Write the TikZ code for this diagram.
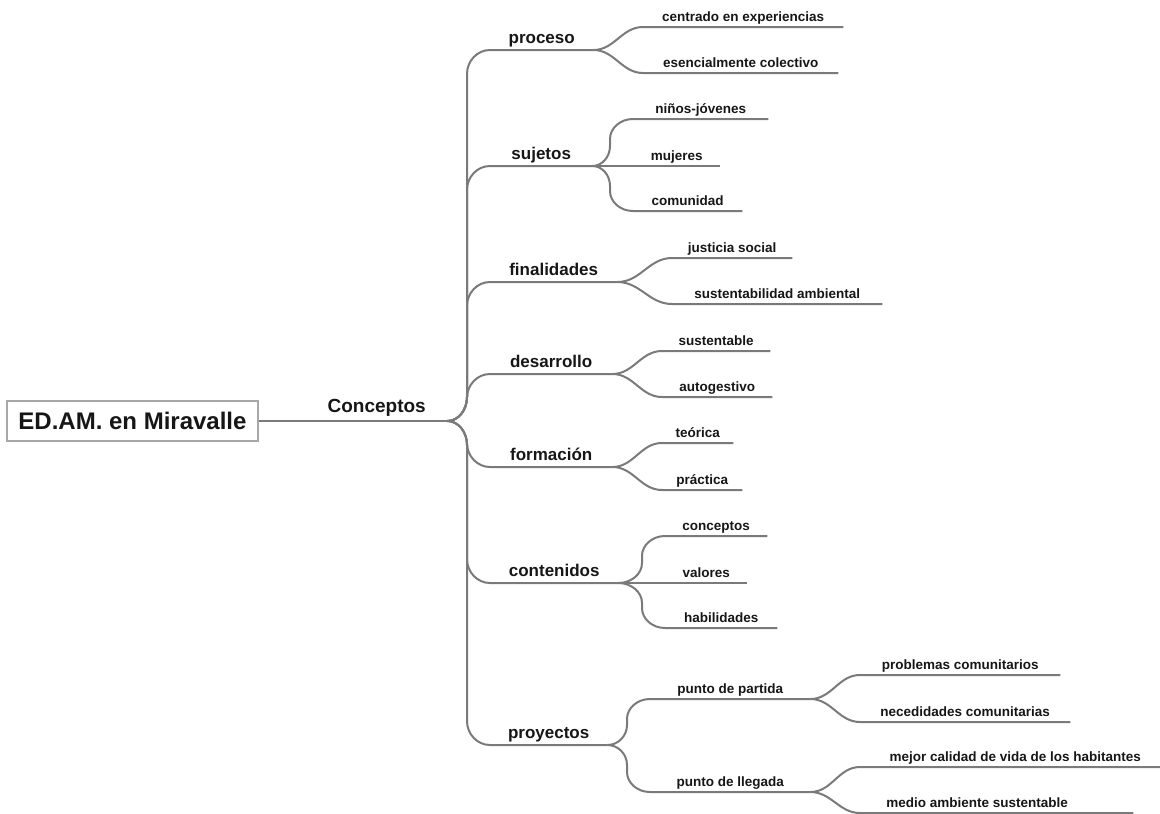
\documentclass[tikz,border=0pt]{standalone}
\usepackage{fontspec}
\setmainfont{Liberation Sans}
\usetikzlibrary{calc}
\definecolor{wiregray}{RGB}{122,122,122}
\definecolor{boxgray}{RGB}{168,168,168}
\definecolor{ink}{RGB}{22,22,22}

\begin{document}
\begin{tikzpicture}[x=1pt,y=-1pt,
  wire/.style={draw=wiregray,line width=2pt},
  % horizontal -> vertical trunk 23pt before the target -> horizontal, round bends
  elbow/.style={to path={let \p1=(\tikztostart), \p2=(\tikztotarget),
      \p3=([xshift=-23pt]\tikztotarget), \n1={ifthenelse(\y2>\y1,1,-1)} in
      .. controls ({\x1+0.55*(\x3-\x1)},\y1) and (\x3,{\y1+\n1*0.45*#1}) .. (\x3,{\y1+\n1*#1})
      -- (\x3,{\y2-\n1*#1})
      .. controls (\x3,{\y2-\n1*0.45*#1}) and ({\x3+0.45*(\x2-\x3)},\y2) .. (\p2) \tikztonodes}},
  elbow/.default=20pt,
  rootbox/.style={draw=boxgray,line width=1.5pt,minimum width=251pt,minimum height=40pt,
    inner sep=0pt,text=ink,font=\fontsize{24}{28}\selectfont\bfseries},
  topic/.style={inner sep=0pt,anchor=south west,minimum width=#1pt,text=ink,
    font=\fontsize{19}{22}\selectfont\bfseries,text depth=8pt},
  branch/.style={inner sep=0pt,anchor=south west,minimum width=#1pt,text=ink,
    font=\fontsize{17}{20}\selectfont\bfseries,text depth=6.5pt},
  leaf/.style={inner sep=0pt,anchor=south west,minimum width=#1pt,text=ink,
    font=\fontsize{13.5}{16}\selectfont\bfseries,text depth=5pt},
]
\useasboundingbox (0,0) rectangle (1160,814);

% root and first level
\node[rootbox] (root) at (132.5,421) {ED.AM. en Miravalle};
\node[topic=141] (conceptos) at (306,421) {Conceptos};

% second level
\node[branch=103] (proceso)     at (490,50)  {proceso};
\node[branch=102] (sujetos)     at (490,166) {sujetos};
\node[branch=127] (finalidades) at (490,282) {finalidades};
\node[branch=122] (desarrollo)  at (490,374) {desarrollo};
\node[branch=122] (formacion)   at (490,467) {formación};
\node[branch=128] (contenidos)  at (490,583) {contenidos};
\node[branch=117] (proyectos)   at (490,745) {proyectos};

% third level
\node[leaf=200] (centrado)        at (643,27)  {centrado en experiencias};
\node[leaf=195] (colectivo)       at (643,73)  {esencialmente colectivo};
\node[leaf=135] (ninos)           at (633,119) {niños-jóvenes};
\node[leaf=87]  (mujeres)         at (633,166) {mujeres};
\node[leaf=109] (comunidad)       at (633,211) {comunidad};
\node[leaf=120] (justicia)        at (672,258) {justicia social};
\node[leaf=210] (sustentabilidad) at (672,304) {sustentabilidad ambiental};
\node[leaf=108] (sustentable)     at (662,351) {sustentable};
\node[leaf=110] (autogestivo)     at (662,397) {autogestivo};
\node[leaf=71]  (teorica)         at (662,443) {teórica};
\node[leaf=80]  (practica)        at (662,490) {práctica};
\node[leaf=102] (cconceptos)      at (665,536) {conceptos};
\node[leaf=82]  (valores)         at (665,583) {valores};
\node[leaf=112] (habilidades)     at (665,628) {habilidades};
\node[leaf=160] (partida)         at (650,699) {punto de partida};
\node[leaf=160] (llegada)         at (650,792) {punto de llegada};

% fourth level
\node[leaf=200] (problemas)   at (860,675) {problemas comunitarios};
\node[leaf=210] (necesidades) at (860,722) {necedidades comunitarias};
\node[leaf=310] (mejor)       at (860,767) {mejor calidad de vida de los habitantes};
\node[leaf=234] (medio)       at (860,813) {medio ambiente sustentable};

% connectors
\draw[wire] (root.east) -- (conceptos.south west) -- (conceptos.south east);
\foreach \b in {proceso,sujetos,finalidades,desarrollo,formacion,contenidos,proyectos}
  \draw[wire] (conceptos.south east) to[elbow=24pt] (\b.south west) -- (\b.south east);

\foreach \p/\c in {proceso/centrado,proceso/colectivo,
                   finalidades/justicia,finalidades/sustentabilidad,
                   desarrollo/sustentable,desarrollo/autogestivo,
                   formacion/teorica,formacion/practica,
                   partida/problemas,partida/necesidades,
                   llegada/mejor}
  \draw[wire] (\p.south east) to[out=0,in=180] (\c.south west) -- (\c.south east);
\draw[wire] (llegada.south east) to[out=0,in=180] (medio.south west) -- ([xshift=39pt]medio.south east);

\foreach \c in {ninos,comunidad}
  \draw[wire] (sujetos.south east) to[elbow=20pt] (\c.south west) -- (\c.south east);
\draw[wire] (sujetos.south east) -- (mujeres.south west) -- (mujeres.south east);

\foreach \c in {cconceptos,habilidades}
  \draw[wire] (contenidos.south east) to[elbow=20pt] (\c.south west) -- (\c.south east);
\draw[wire] (contenidos.south east) -- (valores.south west) -- (valores.south east);

\foreach \c in {partida,llegada}
  \draw[wire] (proyectos.south east) to[elbow=20pt] (\c.south west) -- (\c.south east);
\end{tikzpicture}
\end{document}
